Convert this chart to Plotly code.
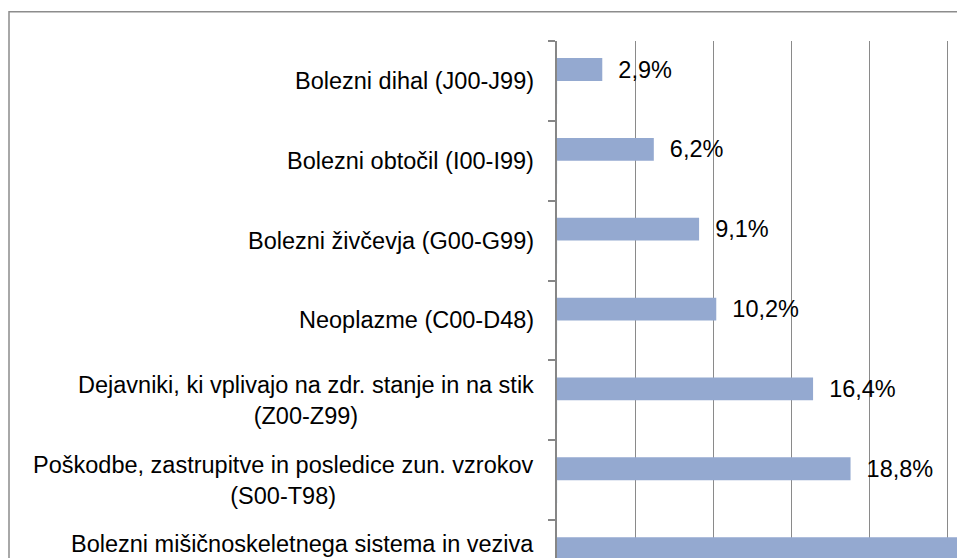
import plotly.graph_objects as go

categories = [
    "Bolezni dihal (J00-J99)",
    "Bolezni obtočil (I00-I99)",
    "Bolezni živčevja (G00-G99)",
    "Neoplazme (C00-D48)",
    "Dejavniki, ki vplivajo na zdr. stanje in na stik<br>(Z00-Z99)",
    "Poškodbe, zastrupitve in posledice zun. vzrokov<br>(S00-T98)",
    "Bolezni mišičnoskeletnega sistema in veziva<br>(M00-M99)",
]
values = [2.9, 6.2, 9.1, 10.2, 16.4, 18.8, 36.4]
labels = ["2,9%", "6,2%", "9,1%", "10,2%", "16,4%", "18,8%", "36,4%"]

FONT = "Liberation Sans, Arial, sans-serif"
FS = 23.5
BAR_COLOR = "#94a9d0"
GRID = "#8a8a8a"

ids = list(range(len(categories)))
boundaries = [i - 0.5 for i in range(len(categories) + 1)]
y_top, y_bottom = -0.5, 5.975
x_max = 26.13

# page body has an 8px default margin -> figure sized to fill the remaining viewport
W, H = 957, 550
ML, MT = 549, 33
PW, PH = W - ML, H - MT

fig = go.Figure()
fig.add_trace(go.Bar(
    y=ids, x=values, orientation="h",
    marker=dict(color=BAR_COLOR, line=dict(width=0)),
    text=["\u00a0\u00a0" + t for t in labels],
    textposition="outside", constraintext="none", cliponaxis=True,
    textfont=dict(family=FONT, size=FS, color="black"),
    showlegend=False, hoverinfo="skip",
))
# second (empty) series occupying the lower half of each category slot
fig.add_trace(go.Bar(
    y=ids, x=[0] * len(ids), orientation="h",
    marker=dict(color="rgba(0,0,0,0)"), showlegend=False, hoverinfo="skip",
))

span = y_bottom - y_top
for i, c in enumerate(categories):
    fig.add_annotation(
        xref="paper", yref="paper", x=0, y=(y_bottom - i) / span,
        text=c, showarrow=False, xanchor="right", yanchor="middle",
        align="center", xshift=-21,
        font=dict(family=FONT, size=FS, color="black"),
    )

# outer chart frame (cropped on right/bottom)
fig.add_shape(type="rect", xref="paper", yref="paper",
              x0=-(ML - 1) / PW, x1=1.5, y0=-0.5, y1=1 + (MT - 3.7) / PH,
              line=dict(color="#8c8c8c", width=1.5), fillcolor="rgba(0,0,0,0)",
              layer="below")

fig.update_layout(
    width=W, height=H,
    margin=dict(l=ML, r=0, t=MT, b=0, pad=0),
    paper_bgcolor="white", plot_bgcolor="white",
    barmode="group", bargap=1.5 / 3.5, bargroupgap=0,
    xaxis=dict(range=[0, x_max], dtick=5, tick0=0, showgrid=True,
               gridcolor=GRID, gridwidth=1.4, zeroline=False,
               showticklabels=False, ticks="", showline=False),
    yaxis=dict(range=[y_bottom, y_top], tickmode="array", tickvals=boundaries,
               showticklabels=False, ticks="outside", ticklen=7,
               tickwidth=1.5, tickcolor="#868686",
               showline=True, linecolor="#868686", linewidth=2,
               showgrid=False, zeroline=False),
    font=dict(family=FONT, size=FS, color="black"),
)

fig.write_html("out.html")
